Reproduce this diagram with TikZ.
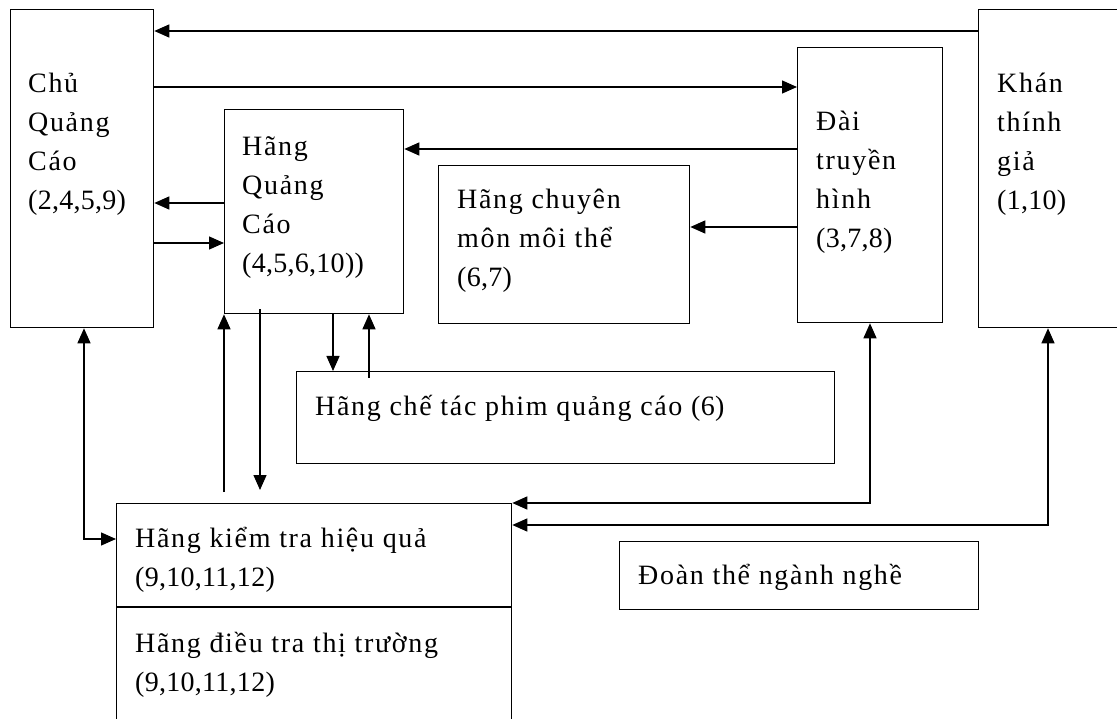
\documentclass[tikz,border=0pt]{standalone}
\usepackage{fontspec}
\setmainfont{Liberation Serif}[LetterSpace=6]
\newfontfamily\numf{Liberation Serif}[LetterSpace=1]
\usetikzlibrary{arrows.meta}
\begin{document}
\begin{tikzpicture}[x=1pt,y=-1pt,
  box/.style={draw, line width=1.3pt, rectangle, inner sep=0pt, anchor=north west},
  txt/.style={anchor=north west, inner sep=0pt, yshift=27.3pt, align=left, font=\fontsize{28}{39}\selectfont},
  conn/.style={line width=1.3pt},
  arr/.style={conn, -{Triangle[length=15pt,width=13pt]}},
  barr/.style={conn, {Triangle[length=15pt,width=13pt]}-{Triangle[length=15pt,width=13pt]}}]
\useasboundingbox (0,0) rectangle (1117,719);
\clip (0,0) rectangle (1117,719);
% boxes
\node[box, minimum width=143pt, minimum height=318pt] (chu) at (10,9) {};
\node[box, minimum width=179pt, minimum height=204pt] (hqc) at (224,109) {};
\node[box, minimum width=251pt, minimum height=158pt] (cm) at (438,165) {};
\node[box, minimum width=145pt, minimum height=275pt] (dai) at (797,47) {};
\node[box, minimum width=160pt, minimum height=318pt] (khan) at (978,9) {};
\node[box, minimum width=538pt, minimum height=92pt] (phim) at (296,371) {};
\node[box, minimum width=395pt, minimum height=240pt] (kt) at (116,503) {};
\node[box, minimum width=359pt, minimum height=68pt] (doan) at (619,541) {};
\draw[conn] (kt.west |- 0,607) -- (kt.east |- 0,607);
% texts
\node[txt] (chuT) at (28,92) {\strut Chủ\\Quảng\\Cáo\\{\numf(2,4,5,9)}};
\node[txt] (hqcT) at (242,155) {\strut Hãng\\Quảng\\Cáo\\{\numf(4,5,6,10))}};
\node[txt] (cmT) at (457,208) {\strut Hãng chuyên\\môn môi thể\\{\numf(6,7)}};
\node[txt] (daiT) at (816,130) {\strut Đài\\truyền\\hình\\{\numf(3,7,8)}};
\node[txt] (khanT) at (997,92) {\strut Khán\\thính\\giả\\{\numf(1,10)}};
\node[txt] (phimT) at (315,415) {\strut Hãng chế tác phim quảng cáo {\numf(6)}};
\node[txt] (ktT) at (135,547) {\strut Hãng kiểm tra hiệu quả\\{\numf(9,10,11,12)}};
\node[txt] (dtT) at (135,652) {\strut Hãng điều tra thị trường\\{\numf(9,10,11,12)}};
\node[txt] (doanT) at (638,584) {\strut Đoàn thể ngành nghề};
% connectors
\draw[arr] (khan.west |- 0,31) -- (chu.east |- 0,31);
\draw[arr] (chu.east |- 0,87) -- (dai.west |- 0,87);
\draw[arr] (dai.west |- 0,149) -- (hqc.east |- 0,149);
\draw[arr] (dai.west |- 0,227) -- (cm.east |- 0,227);
\draw[arr] (hqc.west |- 0,203) -- (chu.east |- 0,203);
\draw[arr] (chu.east |- 0,243) -- (hqc.west |- 0,243);
\draw[arr, shorten <=11pt] (kt.north -| 224,0) -- (hqc.south -| 224,0);
\draw[arr, shorten <=-5pt, shorten >=13pt] (hqc.south -| 260,0) -- (kt.north -| 260,0);
\draw[arr] (hqc.south -| 333,0) -- (phim.north -| 333,0);
\draw[arr, shorten <=-7pt] (phim.north -| 369,0) -- (hqc.south -| 369,0);
\draw[barr] (chu.south -| 84,0) |- (kt.west |- 0,539);
\draw[barr] (dai.south -| 870,0) |- (kt.east |- 0,503);
\draw[barr] (khan.south -| 1048,0) |- (kt.east |- 0,525);
\end{tikzpicture}
\end{document}
